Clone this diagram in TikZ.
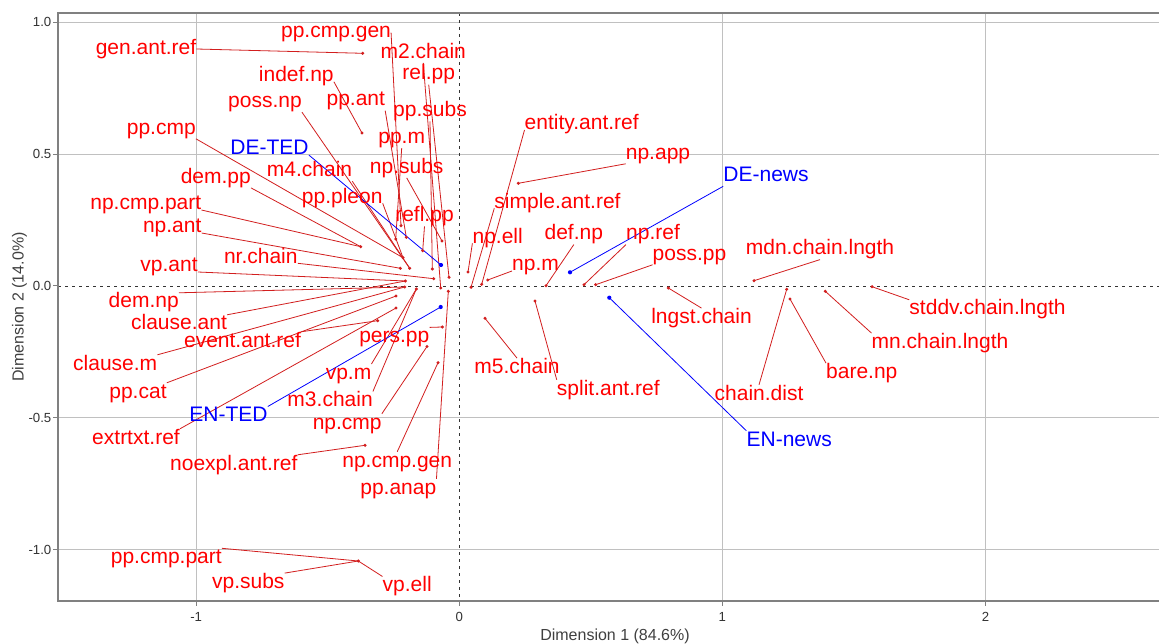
\documentclass[tikz,border=0pt]{standalone}
\usepackage{fontspec}
\usetikzlibrary{backgrounds}
\setmainfont{Liberation Sans}
\newcommand\labfont{\fontsize{21}{24}\selectfont}
\newcommand\tickfont{\fontsize{13.2}{15}\selectfont}
\newcommand\titlefont{\fontsize{16}{18}\selectfont}
\definecolor{labred}{RGB}{255,0,0}
\definecolor{segred}{RGB}{210,30,30}
\definecolor{labblue}{RGB}{0,0,255}
\definecolor{gridgray}{RGB}{192,192,192}
\definecolor{framegray}{RGB}{128,128,128}
\tikzset{
  lab/.style={text=labred, font=\labfont, inner sep=0pt, text height=15pt, text depth=4.4pt, anchor=base},
  blab/.style={lab, text=labblue},
  seg/.style={draw=segred, line width=0.8pt},
  bseg/.style={draw=labblue, line width=0.8pt},
  gridline/.style={draw=gridgray, line width=1.1pt},
  zeroline/.style={draw=black!80, line width=0.7pt, dash pattern=on 3pt off 4pt},
  ticklab/.style={font=\tickfont, text=black!80, inner sep=0pt},
  axtitle/.style={font=\titlefont, text=black!75, inner sep=0pt, anchor=base}
}
\begin{document}
\begin{tikzpicture}[x=1pt,y=-1pt]
\useasboundingbox (0,0) rectangle (1159,644);

% ---- panel: white ground, grid, zero lines, frame, ticks (all below the labels)
\begin{scope}[on background layer]
\fill[white] (0,0) rectangle (1159,644);
\begin{scope}
\clip (58,13) rectangle (1159,601);
\foreach \gx in {196.2,722.4,985.5} \draw[gridline] (\gx,13) -- (\gx,601);
\foreach \gy in {22.2,154.1,417.9,549.8} \draw[gridline] (58,\gy) -- (1159,\gy);
\draw[zeroline] (459.3,13) -- (459.3,601);
\draw[zeroline] (58,286) -- (1159,286);
\end{scope}
\draw[framegray, line width=1.4pt] (1172,13) -- (58,13) -- (58,601) -- (1172,601);
\foreach \gy in {22.2,154.1,286,417.9,549.8}
  \draw[framegray, line width=1pt] (53,\gy) -- (58,\gy);
\foreach \gx in {196.2,459.3,722.4,985.5}
  \draw[framegray, line width=1pt] (\gx,601) -- (\gx,606);
\end{scope}
\foreach \gy/\t in {22.2/1.0,154.1/0.5,286/0.0,417.9/-0.5,549.8/-1.0}
  \node[ticklab, anchor=base east] at (51.5,\gy+4.7) {\t};
\foreach \gx/\t in {196.2/-1,459.3/0,722.4/1,985.5/2}
  \node[ticklab, anchor=base] at (\gx,621.5) {\t};
\node[axtitle] (xtitle) at (615,640) {Dimension 1 (84.6\%)};
\node[axtitle, rotate=90] (ytitle) at (23.5,307) {Dimension 2 (14.0\%)};

% ---- point positions
\coordinate (d1) at (362.7,53.3);
\coordinate (d2) at (362,133);
\coordinate (d3) at (360.7,246.7);
\coordinate (d4) at (395.7,239);
\coordinate (d5) at (401,225.7);
\coordinate (d6) at (406.3,237.3);
\coordinate (d7) at (442,241);
\coordinate (d8) at (422.7,250.7);
\coordinate (d9) at (403,257.7);
\coordinate (d10) at (409.7,268.3);
\coordinate (d11) at (400.3,268.3);
\coordinate (d12) at (432.3,269);
\coordinate (d13) at (449,277.3);
\coordinate (d14) at (433.7,278.7);
\coordinate (d15) at (405.3,281);
\coordinate (d16) at (404.7,287);
\coordinate (d17) at (416.3,289);
\coordinate (d18) at (440.7,288);
\coordinate (d19) at (448.3,291.3);
\coordinate (d20) at (396,296);
\coordinate (d21) at (396,308);
\coordinate (d22) at (377.7,320.7);
\coordinate (d23) at (442.3,327);
\coordinate (d24) at (427,346.5);
\coordinate (d25) at (438,362.7);
\coordinate (d26) at (365,445.3);
\coordinate (d27) at (358.3,561);
\coordinate (r1) at (468,272);
\coordinate (r2) at (471,287.3);
\coordinate (r3) at (481.7,284.3);
\coordinate (r4) at (487.7,280);
\coordinate (r5) at (518.3,183.3);
\coordinate (r6) at (546,285.7);
\coordinate (r7) at (584,284.7);
\coordinate (r8) at (595.7,284.7);
\coordinate (r9) at (668.3,288);
\coordinate (r10) at (485,318.3);
\coordinate (r11) at (535,301);
\coordinate (r12) at (754,280.7);
\coordinate (r13) at (786.7,289.3);
\coordinate (r14) at (790,299);
\coordinate (r15) at (825.3,291.3);
\coordinate (r16) at (872,286.7);
\coordinate (b1) at (441,265);
\coordinate (b2) at (440.7,307);
\coordinate (b3) at (570,272.3);
\coordinate (b4) at (609.3,297.7);

% ---- labels
\node[lab] (genantref) at (146,54.3) {gen.ant.ref};
\node[lab] (ppcmpgen) at (336,38) {pp.cmp.gen};
\node[lab] (mtwochain) at (423.3,58.3) {m2.chain};
\node[lab] (relpp) at (428.7,80) {rel.pp};
\node[lab] (indefnp) at (296.3,81.7) {indef.np};
\node[lab] (ppant) at (355.8,106) {pp.ant};
\node[lab] (possnp) at (265,107.6) {poss.np};
\node[lab] (ppsubs) at (430,116.7) {pp.subs};
\node[lab] (ppcmp) at (161.3,134.2) {pp.cmp};
\node[lab] (ppm) at (401.7,143.5) {pp.m};
\node[lab] (npsubs) at (406.7,173.3) {np.subs};
\node[lab] (mfourchain) at (309.5,176.7) {m4.chain};
\node[lab] (dempp) at (215.8,183.3) {dem.pp};
\node[lab] (pppleon) at (342.2,203.3) {pp.pleon};
\node[lab] (npcmppart) at (145.8,210) {np.cmp.part};
\node[lab] (reflpp) at (424.5,221.7) {refl.pp};
\node[lab] (npant) at (172.2,233) {np.ant};
\node[lab] (nrchain) at (260.8,263.3) {nr.chain};
\node[lab] (vpant) at (169,272) {vp.ant};
\node[lab] (demnp) at (143.7,308) {dem.np};
\node[lab] (clauseant) at (179,330) {clause.ant};
\node[lab] (eventantref) at (242.5,347) {event.ant.ref};
\node[lab] (clausem) at (115.2,370) {clause.m};
\node[lab] (ppcat) at (138,398) {pp.cat};
\node[lab] (extrtxtref) at (136,444) {extrtxt.ref};
\node[lab] (noexplantref) at (233.8,470) {noexpl.ant.ref};
\node[lab] (perspp) at (394.3,342.6) {pers.pp};
\node[lab] (vpm) at (348.5,379.2) {vp.m};
\node[lab] (mthreechain) at (330.1,406.7) {m3.chain};
\node[lab] (npcmp) at (347.2,429) {np.cmp};
\node[lab] (npcmpgen) at (397.2,467) {np.cmp.gen};
\node[lab] (ppanap) at (398.3,494) {pp.anap};
\node[lab] (ppcmppart) at (166.3,563.5) {pp.cmp.part};
\node[lab] (vpsubs) at (248.3,588.3) {vp.subs};
\node[lab] (vpell) at (407.2,591.7) {vp.ell};
\node[lab] (entityantref) at (581.7,130) {entity.ant.ref};
\node[lab] (npapp) at (658,159.2) {np.app};
\node[lab] (simpleantref) at (557.5,208.3) {simple.ant.ref};
\node[lab] (npell) at (497.7,243.3) {np.ell};
\node[lab] (defnp) at (573.8,240) {def.np};
\node[lab] (npref) at (653,240) {np.ref};
\node[lab] (npm) at (535.5,271) {np.m};
\node[lab] (posspp) at (689.5,260.2) {poss.pp};
\node[lab] (mdnchain) at (820,255) {mdn.chain.lngth};
\node[lab] (lngstchain) at (701.5,323.3) {lngst.chain};
\node[lab] (mfivechain) at (517,373.3) {m5.chain};
\node[lab] (splitantref) at (608.3,395) {split.ant.ref};
\node[lab] (stddvchain) at (987.5,315) {stddv.chain.lngth};
\node[lab] (mnchain) at (940,348.3) {mn.chain.lngth};
\node[lab] (barenp) at (861.8,378.3) {bare.np};
\node[lab] (chaindist) at (759,400) {chain.dist};
\node[blab] (deted) at (269.5,155) {DE-TED};
\node[blab] (ented) at (228.5,421.7) {EN-TED};
\node[blab] (denews) at (766,181.7) {DE-news};
\node[blab] (ennews) at (789.2,446) {EN-news};

% ---- connectors from labels to their points, kept beneath the text
\begin{scope}[on background layer]
\draw[seg] (genantref.east) -- (d1);
\draw[seg] (ppcmpgen.east) -- (d5);
\draw[seg] (mtwochain.south) -- (d18);
\draw[seg] (relpp.south) -- (d13);
\draw[seg] (indefnp.base east) -- (d2);
\draw[seg] (ppant.south east) -- (d6);
\draw[seg] (possnp.south east) -- (d10);
\draw[seg] (ppsubs.south) -- (d12);
\draw[seg] (ppcmp.south east) -- (d9);
\draw[seg] (ppm.south) -- (d4);
\draw[seg] (npsubs.south) -- (d7);
\draw[seg] (mfourchain.south east) -- (d10);
\draw[seg] (dempp.south east) -- (d3);
\draw[seg] (pppleon.base east) -- (d9);
\draw[seg] (npcmppart.base east) -- (d3);
\draw[seg] (reflpp.south) -- (d8);
\draw[seg] (npant.base east) -- (d11);
\draw[seg] (nrchain.base east) -- (d14);
\draw[seg] (vpant.base east) -- (d15);
\draw[seg] (demnp.north east) -- (d16);
\draw[seg] (clauseant.north east) -- (d15);
\draw[seg] (eventantref.north east) -- (d22);
\draw[seg] (clausem.north east) -- (d16);
\draw[seg] (ppcat.north east) -- (d20);
\draw[seg] (extrtxtref.north east) -- (d21);
\draw[seg] (noexplantref.north east) -- (d26);
\draw[seg] (perspp.north east) -- (d23);
\draw[seg] (vpm.north east) -- (d17);
\draw[seg] (mthreechain.north east) -- (d17);
\draw[seg] (npcmp.north east) -- (d24);
\draw[seg] (npcmpgen.north) -- (d25);
\draw[seg] (ppanap.north east) -- (d19);
\draw[seg] (ppcmppart.north east) -- (d27);
\draw[seg] (vpsubs.north east) -- (d27);
\draw[seg] (vpell.north west) -- (d27);
\draw[seg] (entityantref.base west) -- (r3);
\draw[seg] (npapp.south west) -- (r5);
\draw[seg] (simpleantref.base west) -- (r2);
\draw[seg] (npell.base west) -- (r1);
\draw[seg] (defnp.south) -- (r6);
\draw[seg] (npref.south west) -- (r7);
\draw[seg] (npm.base west) -- (r4);
\draw[seg] (posspp.south west) -- (r8);
\draw[seg] (mdnchain.south) -- (r12);
\draw[seg] (lngstchain.north) -- (r9);
\draw[seg] (mfivechain.north) -- (r10);
\draw[seg] (splitantref.north west) -- (r11);
\draw[seg] (stddvchain.north west) -- (r16);
\draw[seg] (mnchain.north west) -- (r15);
\draw[seg] (barenp.north west) -- (r14);
\draw[seg] (chaindist.north) -- (r13);
\draw[bseg] (deted.base east) -- (b1);
\draw[bseg] (ented.north east) -- (b2);
\draw[bseg] (denews.south west) -- (b3);
\draw[bseg] (ennews.north west) -- (b4);
\end{scope}

% ---- points
\foreach \p in {d1,d2,d3,d4,d5,d6,d7,d8,d9,d10,d11,d12,d13,d14,d15,d16,d17,d18,d19,d20,d21,d22,d23,d24,d25,d26,d27,r1,r2,r3,r4,r5,r6,r7,r8,r9,r10,r11,r12,r13,r14,r15,r16}
  \fill[segred] (\p) circle (1.7pt);
\foreach \p in {b1,b2,b3,b4}
  \fill[labblue] (\p) circle (2.1pt);
\end{tikzpicture}
\end{document}
